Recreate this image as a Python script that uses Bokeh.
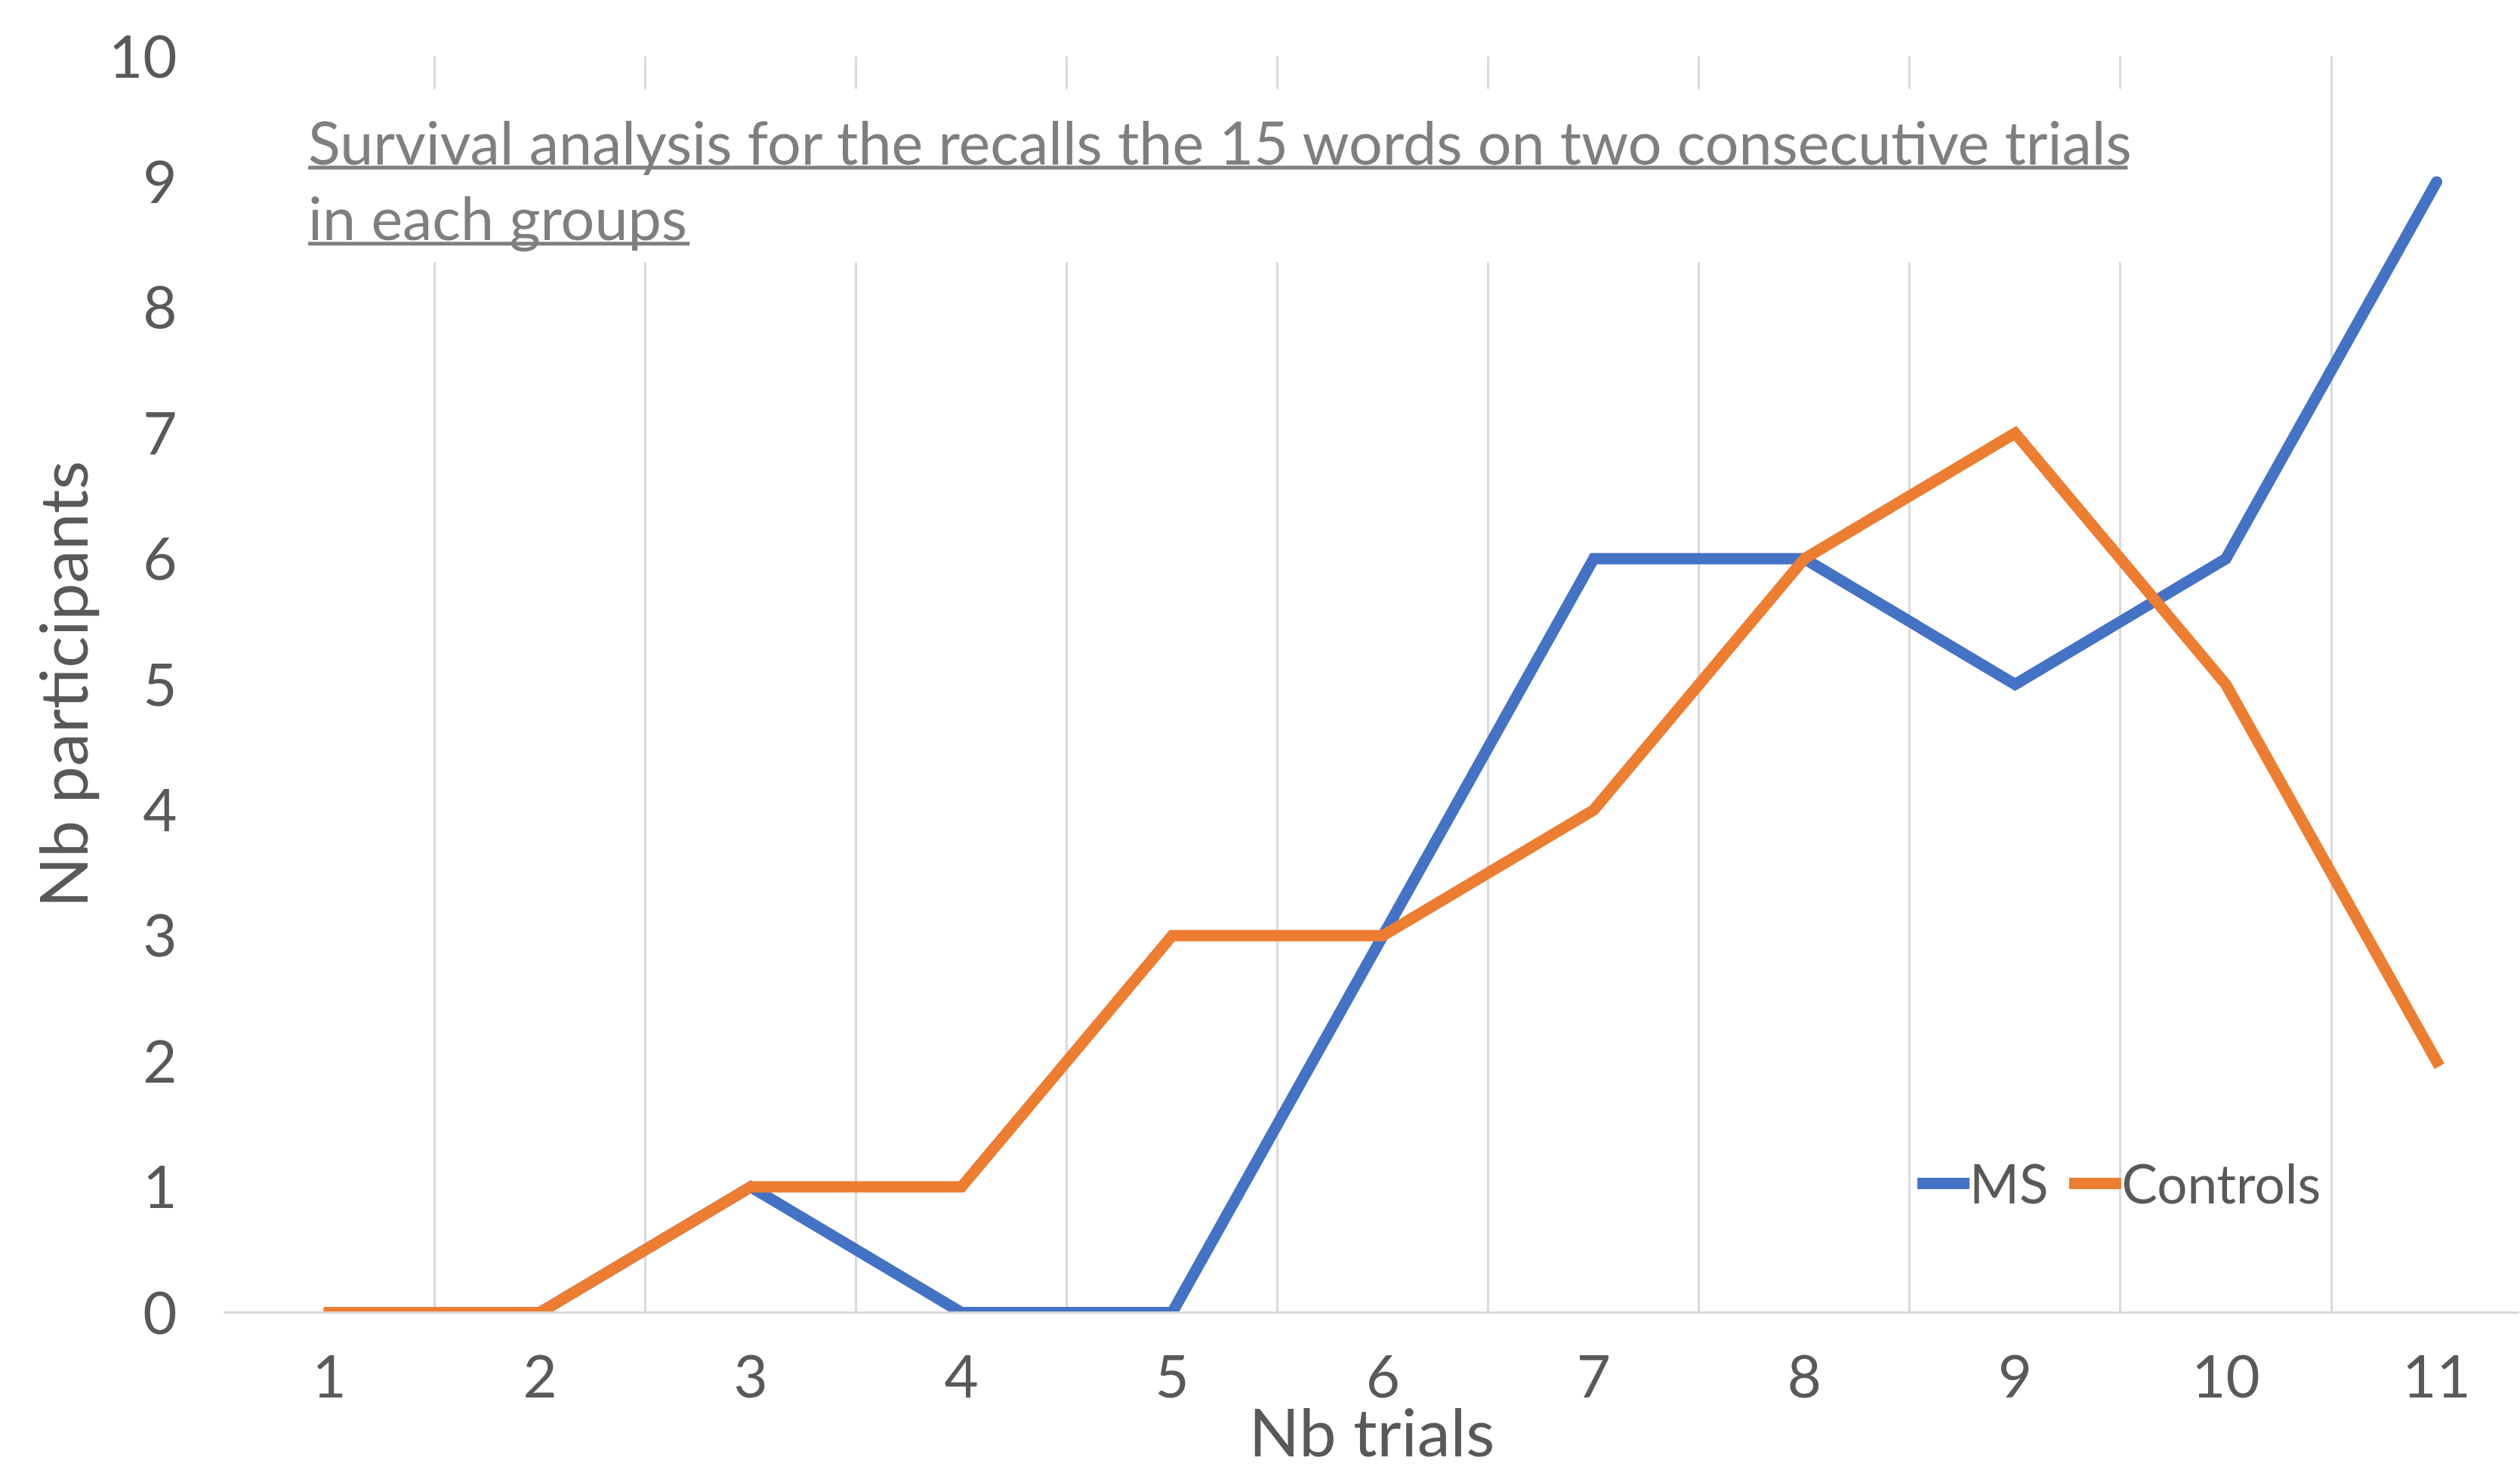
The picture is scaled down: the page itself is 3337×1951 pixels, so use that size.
from bokeh.plotting import figure
from bokeh.models import FixedTicker, Label, BoxAnnotation, Legend, LegendItem, Range1d, ColumnDataSource
from bokeh.embed import file_html
from bokeh.resources import INLINE

# ---- data ----
trials = [1, 2, 3, 4, 5, 6, 7, 8, 9, 10, 11]
ms = [0, 0, 1, 0, 0, 3, 6, 6, 5, 6, 9]
controls = [0, 0, 1, 1, 3, 3, 4, 6, 7, 5, 2]
series_names = ["MS", "Controls"]
y_ticks = [0, 1, 2, 3, 4, 5, 6, 7, 8, 9, 10]
x_tick_labels = {t: str(t) for t in trials}
title_lines = ["Survival analysis for the recalls the 15 words on two consecutive trials",
               "in each groups"]
x_title = "Nb trials"
y_title = "Nb participants"

FONT = "Lato"
TEXT = "#595959"
GRID = "#D9D9D9"
BLUE = "#4472C4"
ORANGE = "#ED7D31"
TITLE_C = "#7F7F7F"

src = ColumnDataSource(dict(x=trials, ms=ms, controls=controls))

p = figure(width=3336, height=1950, output_backend="svg", toolbar_location=None,
           x_range=Range1d(0.5, 11.394), y_range=Range1d(0, 10),
           min_border_left=296, min_border_right=0, min_border_top=74, min_border_bottom=211)
p.outline_line_color = None
p.background_fill_color = "white"

# grid
p.ygrid.visible = False
p.xgrid.ticker = FixedTicker(ticks=[t - 0.5 for t in trials])
p.xgrid.grid_line_color = GRID
p.xgrid.grid_line_width = 3

# axes
p.xaxis.ticker = FixedTicker(ticks=trials)
p.xaxis.major_label_overrides = x_tick_labels
p.yaxis.ticker = FixedTicker(ticks=y_ticks)
for ax in (p.xaxis[0], p.yaxis[0]):
    ax.major_tick_line_color = None
    ax.minor_tick_line_color = None
    ax.major_tick_out = 0
    ax.major_tick_in = 0
    ax.major_label_text_font = FONT
    ax.major_label_text_font_size = "78px"
    ax.major_label_text_color = TEXT
    ax.axis_label_text_font = FONT
    ax.axis_label_text_font_size = "88px"
    ax.axis_label_text_color = TEXT
    ax.axis_label_text_font_style = "normal"
p.xaxis.axis_line_color = GRID
p.xaxis.axis_line_width = 3
p.yaxis.axis_line_color = None
p.xaxis.axis_label = x_title
p.yaxis.axis_label = y_title
p.xaxis.major_label_standoff = 56
p.xaxis.axis_label_standoff = -12
p.yaxis.major_label_standoff = 62
p.yaxis.axis_label_standoff = 6

# title box (white backing that interrupts gridlines)
p.add_layout(BoxAnnotation(left=0.95, right=9.56, top=9.74, bottom=8.36,
                           fill_color="white", fill_alpha=1.0, line_color=None))
p.add_layout(Label(x=0.90, y=9.32, text=title_lines[0], text_font=FONT, text_font_size="79px",
                   text_color=TITLE_C, text_baseline="alphabetic", text_align="left"))
p.add_layout(Label(x=0.90, y=8.72, text=title_lines[1], text_font=FONT, text_font_size="79px",
                   text_color=TITLE_C, text_baseline="alphabetic", text_align="left"))
p.add_layout(BoxAnnotation(left=0.90, right=9.534, top=9.129, bottom=9.099,
                           fill_color=TITLE_C, fill_alpha=1.0, line_color=None))
p.add_layout(BoxAnnotation(left=0.90, right=2.71, top=8.523, bottom=8.493,
                           fill_color=TITLE_C, fill_alpha=1.0, line_color=None))

# series
r1 = p.line("x", "ms", source=src, line_color=BLUE, line_width=15, line_join="miter", line_cap="round")
r2 = p.line("x", "controls", source=src, line_color=ORANGE, line_width=15, line_join="miter", line_cap="square")

legend = Legend(items=[LegendItem(label=series_names[0], renderers=[r1]),
                       LegendItem(label=series_names[1], renderers=[r2])],
                orientation="horizontal", location=(2243, 129),
                label_text_font=FONT, label_text_font_size="71px", label_text_color=TEXT,
                glyph_width=69, glyph_height=20, label_standoff=0, spacing=28,
                padding=0, margin=0, background_fill_alpha=0, border_line_color=None)
p.add_layout(legend)

open("out.html", "w").write(file_html(p, INLINE))
